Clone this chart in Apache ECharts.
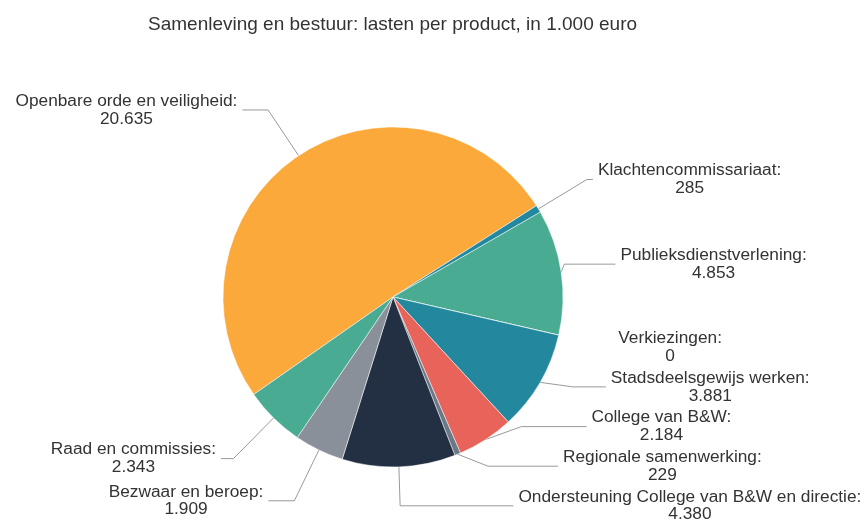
<!DOCTYPE html>
<html>
<head>
<meta charset="utf-8">
<script src="https://cdn.jsdelivr.net/npm/echarts@6/dist/echarts.min.js"></script>
<style>
html,body{margin:0;padding:0;background:#fff;}
#chart{width:867px;height:521px;}
</style>
</head>
<body>
<div id="chart"></div>
<script>
// ---- data ----
const categories = [
  'Openbare orde en veiligheid',
  'Klachtencommissariaat',
  'Publieksdienstverlening',
  'Verkiezingen',
  'Stadsdeelsgewijs werken',
  'College van B&W',
  'Regionale samenwerking',
  'Ondersteuning College van B&W en directie',
  'Bezwaar en beroep',
  'Raad en commissies'
];
const values = [20635, 285, 4853, 0, 3881, 2184, 229, 4380, 1909, 2343];

// ---- styling (not data) ----
const colors = ['#fba93b', '#23889e', '#48ab92', '#8a9099', '#23889e', '#e8635a', '#6b7887', '#233043', '#8a9099', '#48ab92'];
// label connector lengths per slice: [length, length2]
const connector = [
  [54.9, 25.7],
  [56.7, 6],
  [8, 51],
  [110.9, -47.5],
  [34.7, 33],
  [0, 65],
  [0, 70],
  [36, 113.3],
  [56.4, 26],
  [57.1, 12.4]
];

function fmt(v) {
  return String(v).replace(/\B(?=(\d{3})+(?!\d))/g, '.');
}

const FONT = 'Liberation Sans';
const chart = echarts.init(document.getElementById('chart'));
chart.setOption({
  animation: false,
  title: {
    text: 'Samenleving en bestuur: lasten per product, in 1.000 euro',
    left: 143,
    top: 10,
    textStyle: { fontFamily: FONT, fontSize: 19, fontWeight: 'normal', color: '#333333' }
  },
  series: [{
    type: 'pie',
    bottom: -4.6,
    center: [393, 297],
    radius: 170,
    startAngle: 215,
    clockwise: true,
    data: categories.map((c, i) => ({
      name: c,
      value: values[i],
      itemStyle: { color: colors[i] },
      labelLine: {
        length: connector[i][0],
        length2: connector[i][1],
        lineStyle: values[i] === 0 ? { opacity: 0 } : undefined
      }
    })),
    itemStyle: { borderColor: '#ffffff', borderWidth: 0.5 },
    label: {
      show: true,
      fontFamily: FONT,
      fontSize: 17.3,
      color: '#333333',
      lineHeight: 17.8,
      padding: [1, 0, 1, 0],
      bleedMargin: 0,
      overflow: 'none',
      formatter: p => '{n|' + p.name + ':}\n{n|' + fmt(p.value) + '}',
      rich: { n: { align: 'center', fontFamily: FONT, fontSize: 17.3, color: '#333333', lineHeight: 17.8 } }
    },
    labelLine: {
      show: true,
      lineStyle: { color: '#999999', width: 1 }
    }
  }]
});
</script>
</body>
</html>
